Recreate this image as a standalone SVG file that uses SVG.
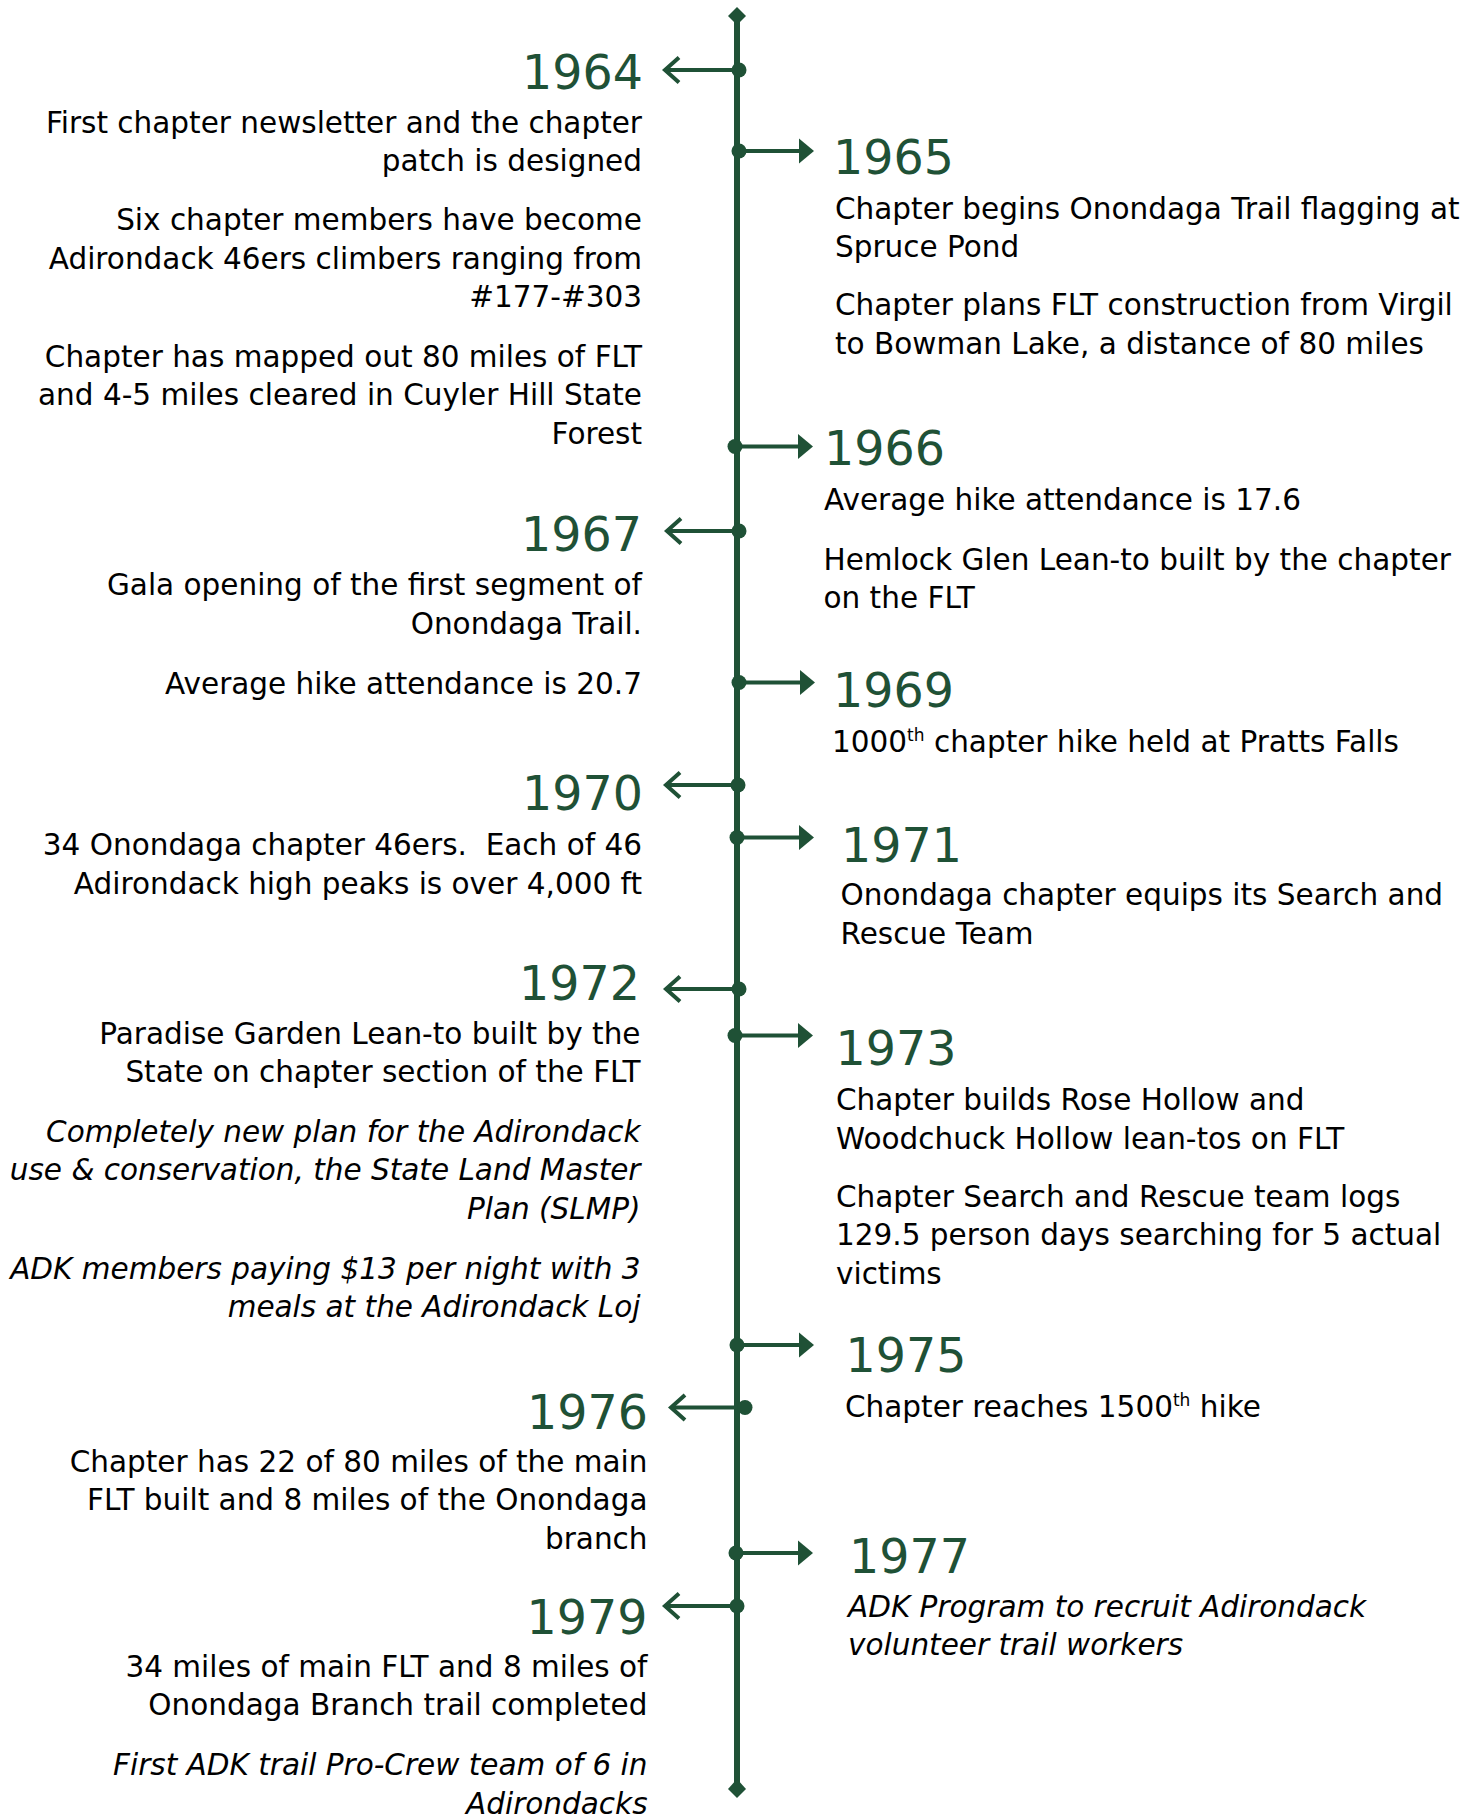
<svg xmlns="http://www.w3.org/2000/svg" width="1476" height="1815" viewBox="0 0 1476 1815">
<style>
.yr{font-family:"DejaVu Sans","Verdana",sans-serif;font-size:47.5px;fill:#1f5136}
.tx{font-family:"DejaVu Sans","Verdana",sans-serif;font-size:29.5px;fill:#000}
.it{font-style:italic}
.l{text-anchor:end}
.sup{font-size:17px}
.spine{stroke:#1f5136;stroke-width:6;fill:none}
.shaft{stroke:#1f5136;stroke-width:4;fill:none}
.chev{stroke:#1f5136;stroke-width:4;fill:none;stroke-linecap:butt;stroke-linejoin:miter}
.dot{fill:#1f5136}
.head{fill:#1f5136}
</style>
<rect width="1476" height="1815" fill="#fff"/>
<g id="connectors">
<line class="spine" x1="737" y1="16" x2="737" y2="1789"/>
<polygon class="head" points="737,7 746,16 737,25 728,16"/>
<polygon class="head" points="737,1779 746,1789 737,1798 728,1789"/>
<g id="c1964"><line class="shaft" x1="739" y1="70" x2="665" y2="70"/><polyline class="chev" points="679,57.5 665,70 679,82.5"/><circle class="dot" cx="739" cy="70" r="7.5"/></g>
<g id="c1967"><line class="shaft" x1="739" y1="531" x2="667" y2="531"/><polyline class="chev" points="681,518.5 667,531 681,543.5"/><circle class="dot" cx="739" cy="531" r="7.5"/></g>
<g id="c1970"><line class="shaft" x1="738" y1="785" x2="666" y2="785"/><polyline class="chev" points="680,772.5 666,785 680,797.5"/><circle class="dot" cx="738" cy="785" r="7.5"/></g>
<g id="c1972"><line class="shaft" x1="739" y1="989" x2="666" y2="989"/><polyline class="chev" points="680,976.5 666,989 680,1001.5"/><circle class="dot" cx="739" cy="989" r="7.5"/></g>
<g id="c1976"><line class="shaft" x1="745" y1="1407.5" x2="671" y2="1407.5"/><polyline class="chev" points="685,1395 671,1407.5 685,1420"/><circle class="dot" cx="745" cy="1407.5" r="7.5"/></g>
<g id="c1979"><line class="shaft" x1="737" y1="1606" x2="665" y2="1606"/><polyline class="chev" points="679,1593.5 665,1606 679,1618.5"/><circle class="dot" cx="737" cy="1606" r="7.5"/></g>
<g id="c1965"><line class="shaft" x1="739" y1="151" x2="800" y2="151"/><polygon class="head" points="799,138.5 814,151 799,163.5"/><circle class="dot" cx="739" cy="151" r="7.5"/></g>
<g id="c1966"><line class="shaft" x1="735" y1="446.5" x2="799" y2="446.5"/><polygon class="head" points="798,434 813,446.5 798,459"/><circle class="dot" cx="735" cy="446.5" r="7.5"/></g>
<g id="c1969"><line class="shaft" x1="739" y1="682.5" x2="801" y2="682.5"/><polygon class="head" points="800,670 815,682.5 800,695"/><circle class="dot" cx="739" cy="682.5" r="7.5"/></g>
<g id="c1971"><line class="shaft" x1="737" y1="837.5" x2="800" y2="837.5"/><polygon class="head" points="799,825 814,837.5 799,850"/><circle class="dot" cx="737" cy="837.5" r="7.5"/></g>
<g id="c1973"><line class="shaft" x1="735" y1="1035.5" x2="799" y2="1035.5"/><polygon class="head" points="798,1023 813,1035.5 798,1048"/><circle class="dot" cx="735" cy="1035.5" r="7.5"/></g>
<g id="c1975"><line class="shaft" x1="737" y1="1345" x2="800" y2="1345"/><polygon class="head" points="799,1332.5 814,1345 799,1357.5"/><circle class="dot" cx="737" cy="1345" r="7.5"/></g>
<g id="c1977"><line class="shaft" x1="736" y1="1553" x2="799" y2="1553"/><polygon class="head" points="798,1540.5 813,1553 798,1565.5"/><circle class="dot" cx="736" cy="1553" r="7.5"/></g>
</g>

<g id="e1964">
<text class="yr l" x="643" y="88.5">1964</text>
<text class="tx l" x="642" y="133">First chapter newsletter and the chapter</text>
<text class="tx l" x="642" y="171">patch is designed</text>
<text class="tx l" x="642" y="230">Six chapter members have become</text>
<text class="tx l" x="642" y="268.5">Adirondack 46ers climbers ranging from</text>
<text class="tx l" x="642" y="306.5">#177-#303</text>
<text class="tx l" x="642" y="366.5">Chapter has mapped out 80 miles of FLT</text>
<text class="tx l" x="642" y="405">and 4-5 miles cleared in Cuyler Hill State</text>
<text class="tx l" x="642" y="443.5">Forest</text>
</g>

<g id="e1965">
<text class="yr" x="833" y="173.5">1965</text>
<text class="tx" x="835" y="218.5">Chapter begins Onondaga Trail flagging at</text>
<text class="tx" x="835" y="256.5">Spruce Pond</text>
<text class="tx" x="835" y="315">Chapter plans FLT construction from Virgil</text>
<text class="tx" x="835" y="353.5">to Bowman Lake, a distance of 80 miles</text>
</g>

<g id="e1966">
<text class="yr" x="824" y="464.5">1966</text>
<text class="tx" x="824" y="509.5">Average hike attendance is 17.6</text>
<text class="tx" x="823.5" y="569.5">Hemlock Glen Lean-to built by the chapter</text>
<text class="tx" x="823.5" y="607.5">on the FLT</text>
</g>

<g id="e1967">
<text class="yr l" x="642" y="550.5">1967</text>
<text class="tx l" x="642" y="595">Gala opening of the first segment of</text>
<text class="tx l" x="642" y="633.5">Onondaga Trail.</text>
<text class="tx l" x="642" y="693.5">Average hike attendance is 20.7</text>
</g>

<g id="e1969">
<text class="yr" x="833" y="706.5">1969</text>
<text class="tx" x="832" y="751.5">1000<tspan class="sup" dy="-11">th</tspan><tspan dy="11"> chapter hike held at Pratts Falls</tspan></text>
</g>

<g id="e1970">
<text class="yr l" x="643" y="810">1970</text>
<text class="tx l" x="642" y="855" style="white-space:pre">34 Onondaga chapter 46ers.  Each of 46</text>
<text class="tx l" x="642" y="893.5">Adirondack high peaks is over 4,000 ft</text>
</g>

<g id="e1971">
<text class="yr" x="841" y="861.5">1971</text>
<text class="tx" x="840.5" y="905">Onondaga chapter equips its Search and</text>
<text class="tx" x="840.5" y="943.5">Rescue Team</text>
</g>

<g id="e1972">
<text class="yr l" x="640" y="1000">1972</text>
<text class="tx l" x="640.5" y="1043.5">Paradise Garden Lean-to built by the</text>
<text class="tx l" x="640.5" y="1081.5">State on chapter section of the FLT</text>
<text class="tx it l" x="640.5" y="1141.5">Completely new plan for the Adirondack</text>
<text class="tx it l" x="640.5" y="1180">use &amp; conservation, the State Land Master</text>
<text class="tx it l" x="640.5" y="1218.5">Plan (SLMP)</text>
<text class="tx it l" x="640.5" y="1278.5">ADK members paying $13 per night with 3</text>
<text class="tx it l" x="640.5" y="1316.5">meals at the Adirondack Loj</text>
</g>

<g id="e1973">
<text class="yr" x="835.5" y="1065">1973</text>
<text class="tx" x="836" y="1110">Chapter builds Rose Hollow and</text>
<text class="tx" x="836" y="1148.5">Woodchuck Hollow lean-tos on FLT</text>
<text class="tx" x="836" y="1206.5">Chapter Search and Rescue team logs</text>
<text class="tx" x="836" y="1245">129.5 person days searching for 5 actual</text>
<text class="tx" x="836" y="1283.5">victims</text>
</g>

<g id="e1975">
<text class="yr" x="845.5" y="1372">1975</text>
<text class="tx" x="845" y="1416.5">Chapter reaches 1500<tspan class="sup" dy="-11">th</tspan><tspan dy="11"> hike</tspan></text>
</g>

<g id="e1976">
<text class="yr l" x="648" y="1428.5">1976</text>
<text class="tx l" x="647.5" y="1471.5">Chapter has 22 of 80 miles of the main</text>
<text class="tx l" x="647.5" y="1510">FLT built and 8 miles of the Onondaga</text>
<text class="tx l" x="647.5" y="1548.5">branch</text>
</g>

<g id="e1977">
<text class="yr" x="849" y="1572.5">1977</text>
<text class="tx it" x="848" y="1616.5">ADK Program to recruit Adirondack</text>
<text class="tx it" x="848" y="1655">volunteer trail workers</text>
</g>

<g id="e1979">
<text class="yr l" x="647.5" y="1633.5">1979</text>
<text class="tx l" x="647.5" y="1676.5">34 miles of main FLT and 8 miles of</text>
<text class="tx l" x="647.5" y="1715">Onondaga Branch trail completed</text>
<text class="tx it l" x="647.5" y="1775">First ADK trail Pro-Crew team of 6 in</text>
<text class="tx it l" x="647.5" y="1813.5">Adirondacks</text>
</g>
</svg>
